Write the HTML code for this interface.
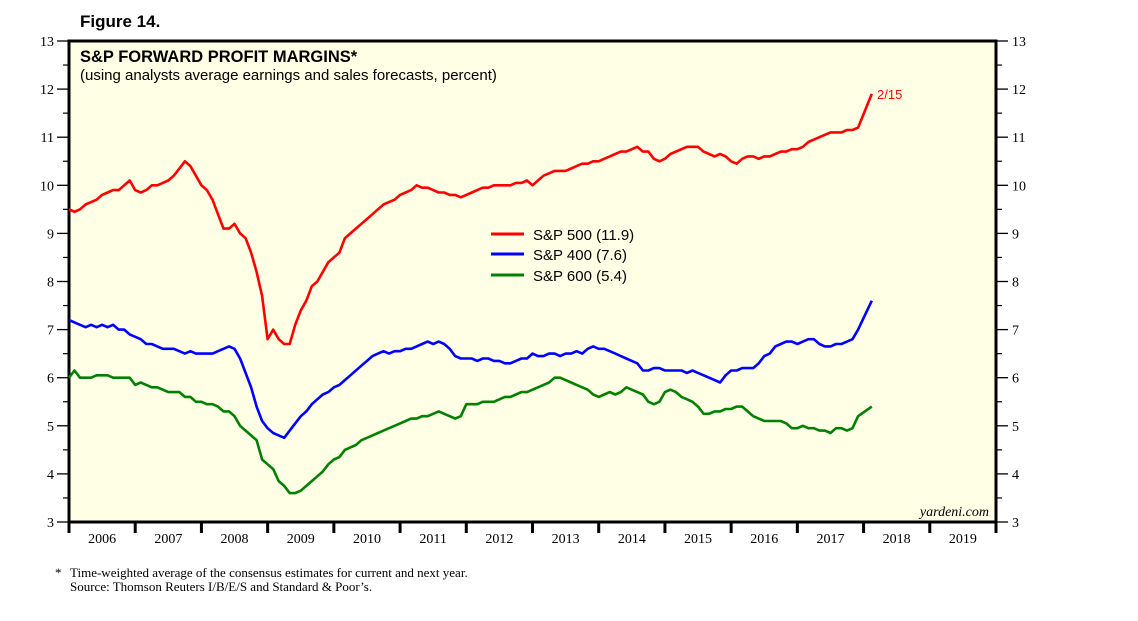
<!DOCTYPE html>
<html><head><meta charset="utf-8"><style>
body{margin:0;background:#fff;width:1138px;height:621px;overflow:hidden}
svg{display:block}
.serif{font-family:"Liberation Serif",serif}
.sans{font-family:"Liberation Sans",sans-serif}
</style></head><body>
<svg id="chart" width="1138" height="621">
<text x="80" y="27" class="sans" font-size="17" font-weight="bold">Figure 14.</text>
<rect x="69" y="41" width="927" height="481" fill="#FFFFE6" stroke="#000" stroke-width="3"/>
<text x="80" y="62" class="sans" font-size="16.5" font-weight="bold">S&amp;P FORWARD PROFIT MARGINS*</text>
<text x="80" y="80" class="sans" font-size="15">(using analysts average earnings and sales forecasts, percent)</text>
<g id="axes"></g>
<g id="series"></g>
<text x="877" y="99" class="sans" font-size="13" fill="#ff0000">2/15</text>
<g>
<line x1="491" y1="234" x2="524" y2="234" stroke="#ff0000" stroke-width="3"/>
<text x="533" y="240" class="sans" font-size="15">S&amp;P 500 (11.9)</text>
<line x1="491" y1="254" x2="524" y2="254" stroke="#0000ff" stroke-width="3"/>
<text x="533" y="260" class="sans" font-size="15">S&amp;P 400 (7.6)</text>
<line x1="491" y1="275" x2="524" y2="275" stroke="#008000" stroke-width="3"/>
<text x="533" y="281" class="sans" font-size="15">S&amp;P 600 (5.4)</text>
</g>
<text x="989" y="516" class="serif" font-size="14" font-style="italic" text-anchor="end">yardeni.com</text>
<text x="55" y="577" class="serif" font-size="13">*</text>
<text x="70" y="577" class="serif" font-size="13">Time-weighted average of the consensus estimates for current and next year.</text>
<text x="70" y="591" class="serif" font-size="13">Source: Thomson Reuters I/B/E/S and Standard &amp; Poor’s.</text>
</svg>
<script>
const years=[2006,2007,2008,2009,2010,2011,2012,2013,2014,2015,2016,2017,2018,2019];
const yTicks=[3,4,5,6,7,8,9,10,11,12,13];
const sp500=[9.5,9.45,9.5,9.6,9.65,9.7,9.8,9.85,9.9,9.9,10.0,10.1,
9.9,9.85,9.9,10.0,10.0,10.05,10.1,10.2,10.35,10.5,10.4,10.2,
10.0,9.9,9.7,9.4,9.1,9.1,9.2,9.0,8.9,8.6,8.2,7.7,
6.8,7.0,6.8,6.7,6.7,7.1,7.4,7.6,7.9,8.0,8.2,8.4,
8.5,8.6,8.9,9.0,9.1,9.2,9.3,9.4,9.5,9.6,9.65,9.7,
9.8,9.85,9.9,10.0,9.95,9.95,9.9,9.85,9.85,9.8,9.8,9.75,
9.8,9.85,9.9,9.95,9.95,10.0,10.0,10.0,10.0,10.05,10.05,10.1,
10.0,10.1,10.2,10.25,10.3,10.3,10.3,10.35,10.4,10.45,10.45,10.5,
10.5,10.55,10.6,10.65,10.7,10.7,10.75,10.8,10.7,10.7,10.55,10.5,
10.55,10.65,10.7,10.75,10.8,10.8,10.8,10.7,10.65,10.6,10.65,10.6,
10.5,10.45,10.55,10.6,10.6,10.55,10.6,10.6,10.65,10.7,10.7,10.75,
10.75,10.8,10.9,10.95,11.0,11.05,11.1,11.1,11.1,11.15,11.15,11.2,11.9];
const sp400=[7.2,7.15,7.1,7.05,7.1,7.05,7.1,7.05,7.1,7.0,7.0,6.9,
6.85,6.8,6.7,6.7,6.65,6.6,6.6,6.6,6.55,6.5,6.55,6.5,
6.5,6.5,6.5,6.55,6.6,6.65,6.6,6.4,6.1,5.8,5.4,5.1,
4.95,4.85,4.8,4.75,4.9,5.05,5.2,5.3,5.45,5.55,5.65,5.7,
5.8,5.85,5.95,6.05,6.15,6.25,6.35,6.45,6.5,6.55,6.5,6.55,
6.55,6.6,6.6,6.65,6.7,6.75,6.7,6.75,6.7,6.6,6.45,6.4,
6.4,6.4,6.35,6.4,6.4,6.35,6.35,6.3,6.3,6.35,6.4,6.4,
6.5,6.45,6.45,6.5,6.5,6.45,6.5,6.5,6.55,6.5,6.6,6.65,
6.6,6.6,6.55,6.5,6.45,6.4,6.35,6.3,6.15,6.15,6.2,6.2,
6.15,6.15,6.15,6.15,6.1,6.15,6.1,6.05,6.0,5.95,5.9,6.05,
6.15,6.15,6.2,6.2,6.2,6.3,6.45,6.5,6.65,6.7,6.75,6.75,
6.7,6.75,6.8,6.8,6.7,6.65,6.65,6.7,6.7,6.75,6.8,7.0,7.6];
const sp600=[6.0,6.15,6.0,6.0,6.0,6.05,6.05,6.05,6.0,6.0,6.0,6.0,
5.85,5.9,5.85,5.8,5.8,5.75,5.7,5.7,5.7,5.6,5.6,5.5,
5.5,5.45,5.45,5.4,5.3,5.3,5.2,5.0,4.9,4.8,4.7,4.3,
4.2,4.1,3.85,3.75,3.6,3.6,3.65,3.75,3.85,3.95,4.05,4.2,
4.3,4.35,4.5,4.55,4.6,4.7,4.75,4.8,4.85,4.9,4.95,5.0,
5.05,5.1,5.15,5.15,5.2,5.2,5.25,5.3,5.25,5.2,5.15,5.2,
5.45,5.45,5.45,5.5,5.5,5.5,5.55,5.6,5.6,5.65,5.7,5.7,
5.75,5.8,5.85,5.9,6.0,6.0,5.95,5.9,5.85,5.8,5.75,5.65,
5.6,5.65,5.7,5.65,5.7,5.8,5.75,5.7,5.65,5.5,5.45,5.5,
5.7,5.75,5.7,5.6,5.55,5.5,5.4,5.25,5.25,5.3,5.3,5.35,
5.35,5.4,5.4,5.3,5.2,5.15,5.1,5.1,5.1,5.1,5.05,4.95,
4.95,5.0,4.95,4.95,4.9,4.9,4.85,4.95,4.95,4.9,4.95,5.2,5.4];

const NS='http://www.w3.org/2000/svg';
const X0=69,X1=996,Y0=522,Y1=41,T0=2006,T1=2020,V0=3,V1=13;
function xs(t){return X0+(t-T0)/(T1-T0)*(X1-X0);}
function ys(v){return Y0-(v-V0)/(V1-V0)*(Y0-Y1);}
function mk(tag,attrs,parent){const e=document.createElementNS(NS,tag);for(const k in attrs)e.setAttribute(k,attrs[k]);parent.appendChild(e);return e;}
const axes=document.getElementById('axes');
yTicks.forEach(v=>{
  const y=ys(v);
  const l=mk('line',{x1:57,x2:69,y1:y,y2:y,stroke:'#000','stroke-width':1.3},axes);
  
  
  const r=mk('line',{x1:996,x2:1008,y1:y,y2:y,stroke:'#000','stroke-width':1.3},axes);
  
  
  const t=mk('text',{x:54,y:y+5,'text-anchor':'end','font-size':14,class:'serif'},axes);
  t.textContent=v;
  
  
  const t2=mk('text',{x:1012,y:y+5,'font-size':14,class:'serif'},axes);
  t2.textContent=v;
  
  
  if(v<13){
    const ym=ys(v+0.5);
    const m=mk('line',{x1:63,x2:69,y1:ym,y2:ym,stroke:'#000','stroke-width':1.2},axes);
    
    
    const m2=mk('line',{x1:996,x2:1002,y1:ym,y2:ym,stroke:'#000','stroke-width':1.2},axes);
    
    
  }
});
years.concat([2020]).forEach(yr=>{
  const x=xs(yr);
  const l=mk('line',{x1:x,x2:x,y1:522,y2:533,stroke:'#000','stroke-width':3},axes);
  
  
});
years.forEach(yr=>{
  const t=mk('text',{x:xs(yr+0.5),y:543,'text-anchor':'middle','font-size':14,class:'serif'},axes);
  t.textContent=yr;
  
  
});
const sg=document.getElementById('series');
function draw(arr,color,name){
  const pts=arr.map((v,i)=>{const t=T0+(i<144?i/12:12+1.5/12);return xs(t).toFixed(1)+','+ys(v).toFixed(1);});
  const p=mk('polyline',{points:pts.join(' '),fill:'none',stroke:color,'stroke-width':2.6,'stroke-linejoin':'round'},sg);
  
  
}
draw(sp500,'#ff0000','series-sp500');
draw(sp400,'#0000ff','series-sp400');
draw(sp600,'#008000','series-sp600');
</script>
</body></html>
